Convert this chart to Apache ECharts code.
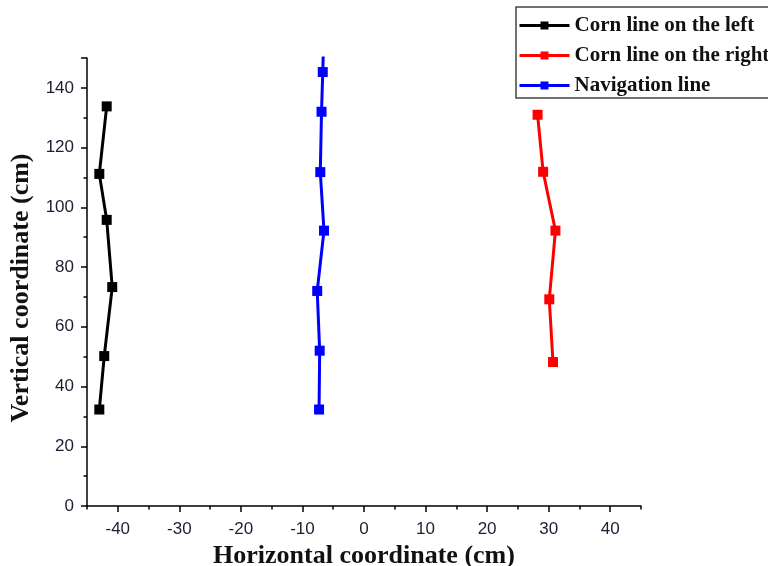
<!DOCTYPE html>
<html>
<head>
<meta charset="utf-8">
<script src="https://cdn.jsdelivr.net/npm/echarts@6/dist/echarts.min.js"></script>
<style>
  html, body { margin: 0; padding: 0; background: #fff; }
  #chart { width: 768px; height: 566px; }
</style>
</head>
<body>
<div id="chart"></div>
<script>
// [horizontal, vertical] in cm
const leftRow = [[-43.0, 32.3], [-42.2, 50.2], [-40.9, 73.3], [-41.8, 95.8], [-43.0, 111.2], [-41.8, 133.8]]
const rightRow = [[30.7, 48.2], [30.1, 69.2], [31.1, 92.2], [29.1, 111.9], [28.2, 131.0]]
const navLine = [[-7.3, 32.3], [-7.2, 52.0], [-7.6, 72.0], [-6.5, 92.2], [-7.1, 111.8], [-6.9, 132.0], [-6.7, 145.3], [-6.5, 160.0]]
const seriesNames = ['Corn line on the left', 'Corn line on the right', 'Navigation line']
const seriesColors = ['#000000', '#ff0000', '#0000ff']

// x axis runs -45..45, labelled every 10, small ticks at the odd fives
const xMajorTicks = [-40, -30, -20, -10, 0, 10, 20, 30, 40]
const xMinorTicks = [-45, -35, -25, -15, -5, 5, 15, 25, 35, 45]

const SERIF = '"Liberation Serif", "DejaVu Serif", serif'
const SANS = '"Liberation Sans", Arial, sans-serif'

const chart = echarts.init(document.getElementById('chart'))

const makeSeries = (data, i) => ({
  name: seriesNames[i],
  type: 'line',
  data,
  symbol: 'rect',
  symbolSize: 10,
  lineStyle: { width: 3, color: seriesColors[i] },
  itemStyle: { color: seriesColors[i] },
  clip: true
})

const titleStyle = { fontFamily: SERIF, fontWeight: 'bold', fontSize: 26, color: '#111' }
const tickLine = { color: '#000', width: 1.5 }
const labelStyle = { fontFamily: SANS, fontSize: 17, color: '#1d1d33' }

chart.setOption({
  animation: false,
  grid: { left: 87, right: 127, top: 58, bottom: 60, containLabel: false, outerBoundsMode: 'none' },
  legend: {
    orient: 'vertical',
    left: 516,
    top: 7,
    padding: [8, 60, 2, 2],
    itemGap: 9,
    itemWidth: 50,
    itemHeight: 10,
    borderColor: '#444',
    borderWidth: 1.5,
    lineStyle: { width: 3 },
    textStyle: { fontFamily: SERIF, fontWeight: 'bold', fontSize: 21, color: '#111' },
    data: seriesNames
  },
  xAxis: [
    {
      type: 'value',
      min: -45,
      max: 45,
      interval: 5,
      name: 'Horizontal coordinate (cm)',
      nameLocation: 'center',
      nameGap: 30,
      nameTextStyle: titleStyle,
      splitLine: { show: false },
      axisLine: { onZero: false, lineStyle: tickLine },
      axisTick: { customValues: xMajorTicks, length: 6, lineStyle: tickLine },
      axisLabel: { customValues: xMajorTicks, margin: 15, ...labelStyle }
    },
    {
      type: 'value',
      min: -45,
      max: 45,
      interval: 5,
      position: 'bottom',
      splitLine: { show: false },
      axisLine: { show: false, onZero: false },
      axisTick: { customValues: xMinorTicks, length: 3.5, lineStyle: tickLine },
      axisLabel: { show: false }
    }
  ],
  yAxis: {
    type: 'value',
    min: 0,
    max: 150,
    interval: 20,
    name: 'Vertical coordinate (cm)',
    nameLocation: 'center',
    nameGap: 47,
    nameTextStyle: { ...titleStyle, padding: [0, 0, 0, -12] },
    splitLine: { show: false },
    axisLine: { onZero: false, lineStyle: tickLine },
    axisTick: { length: 6, lineStyle: tickLine },
    minorTick: { show: true, splitNumber: 2, length: 3.5, lineStyle: tickLine },
    axisLabel: { margin: 13, showMaxLabel: false, ...labelStyle }
  },
  series: [makeSeries(leftRow, 0), makeSeries(rightRow, 1), makeSeries(navLine, 2)]
})
</script>
</body>
</html>
